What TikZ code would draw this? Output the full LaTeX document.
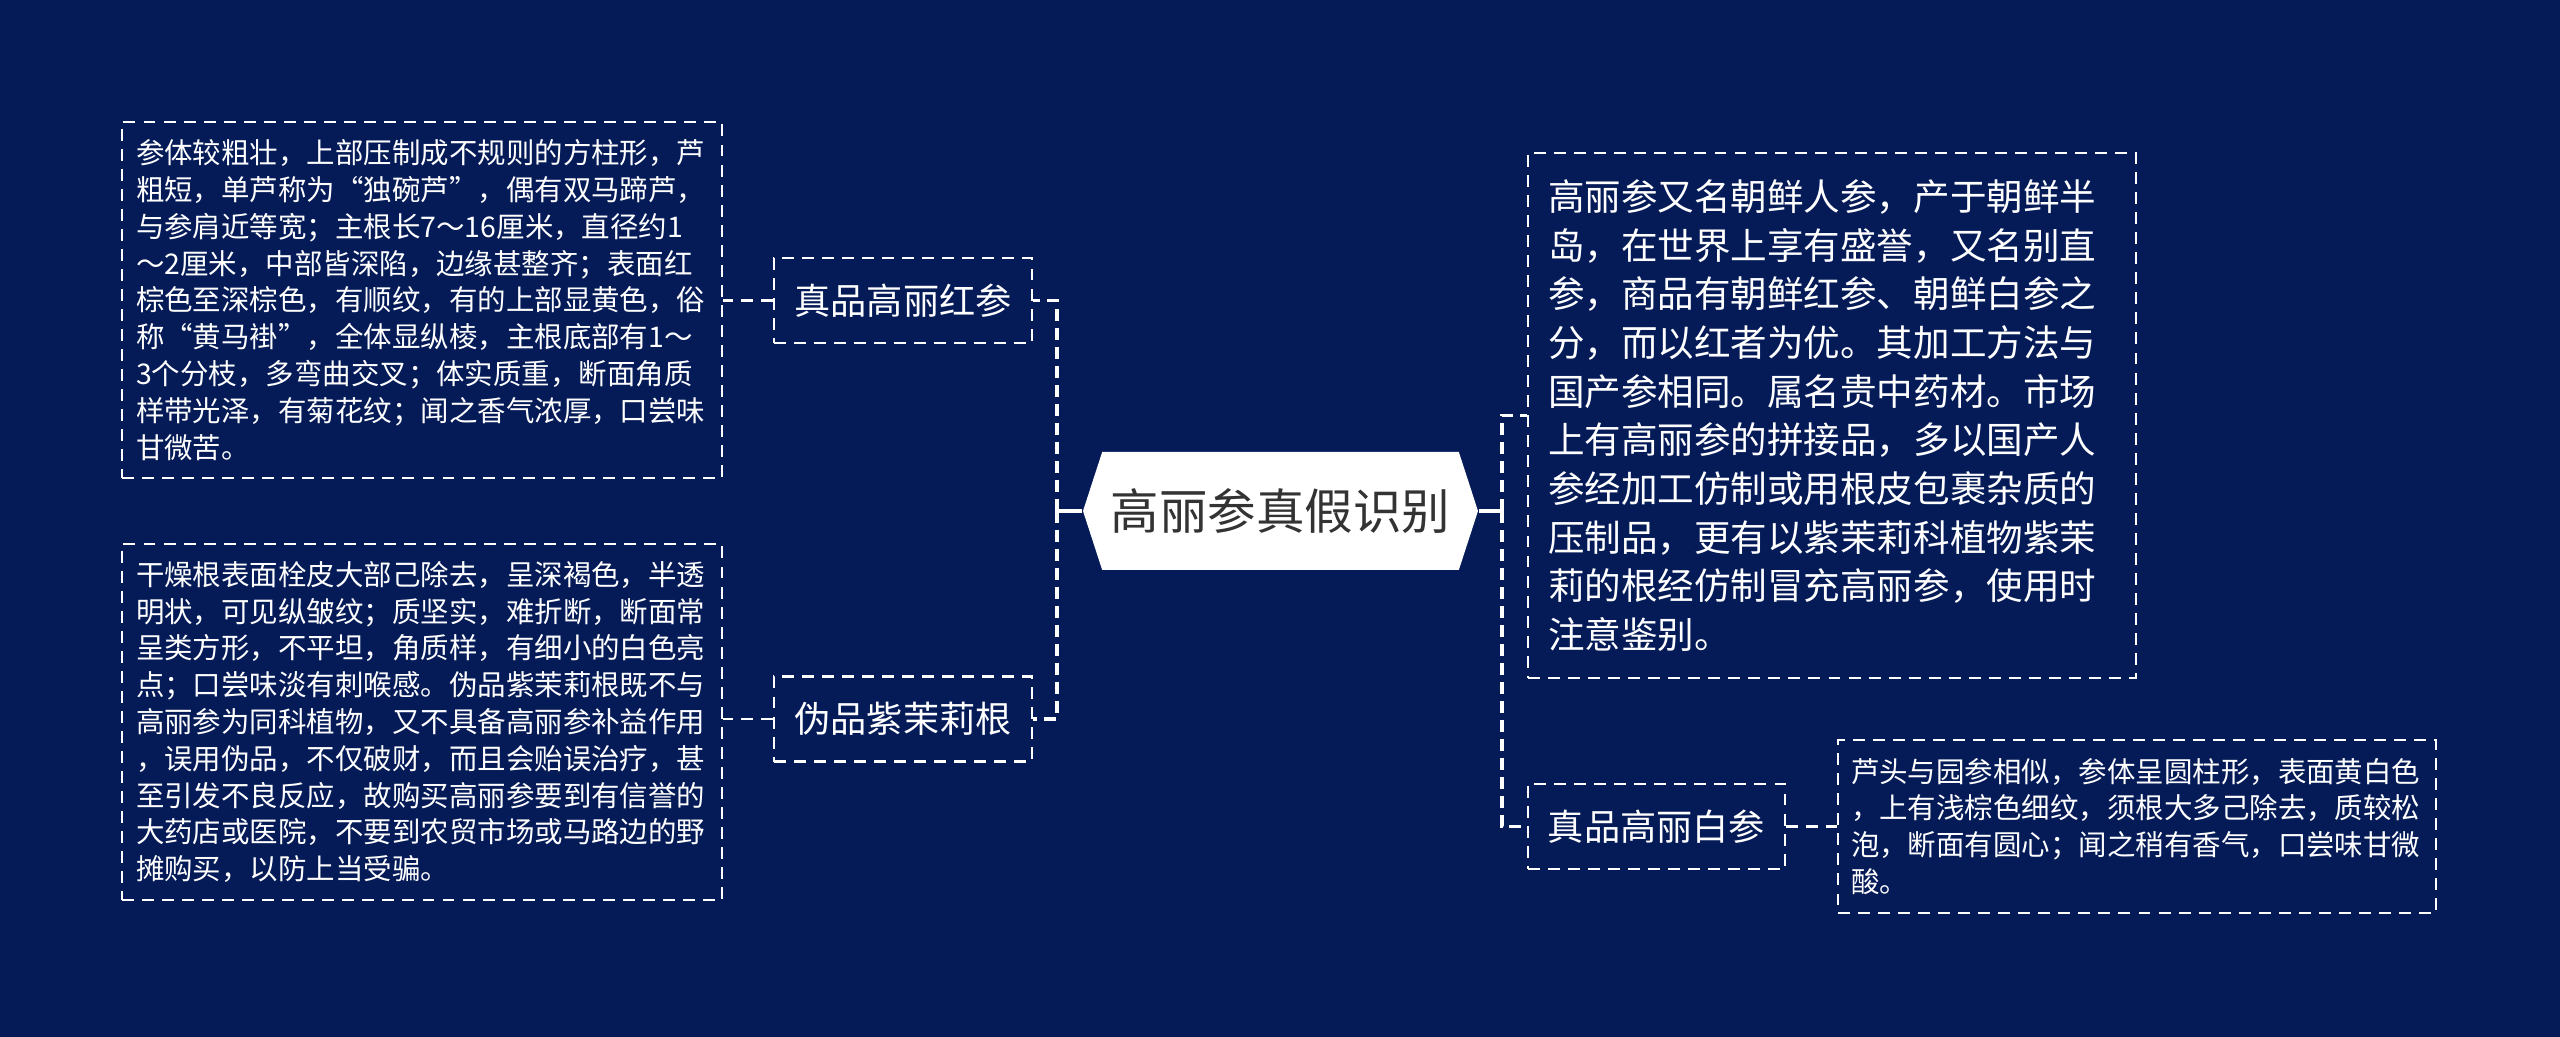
\documentclass[tikz,border=0pt]{standalone}
\usepackage{fontspec}
\setmainfont{Noto Sans CJK SC}
\definecolor{navybg}{RGB}{4,27,88}
\definecolor{rootink}{gray}{0.2}
\usetikzlibrary{shapes.symbols,calc}
\tikzset{
  dashbox/.style={draw=white,line width=0.6pt,dash pattern=on 3.4pt off 2.3pt,text=white},
  descbox/.style={dashbox,align=left,inner ysep=0pt,font=\fontsize{8.1pt}{10.47pt}\selectfont},
  midbox/.style={dashbox,align=center,inner sep=0pt,minimum width=2.58cm,minimum height=0.85cm,
    font=\fontsize{10.3pt}{12pt}\selectfont},
  rootbox/.style={shape=signal,signal to=west and east,signal pointer angle=144,fill=white,
    text=rootink,inner sep=0pt,minimum width=3.95cm,minimum height=1.18cm,
    font=\fontsize{13.8pt}{16pt}\selectfont},
  link/.style={white,line width=1.1pt,dash pattern=on 3.4pt off 2pt},
  stem/.style={white,line width=1.1pt},
  twig/.style={white,line width=0.6pt,dash pattern=on 3.4pt off 2.3pt},
}

\begin{document}
\begin{tikzpicture}
  \def\W{25.6}\def\H{10.37}
  \fill[navybg] (0,0) rectangle (\W,-\H);
  \useasboundingbox (0,0) rectangle (\W,-\H);
  % centre
  \node[rootbox] (root) at (12.805,-5.11) {高丽参真假识别};
  \coordinate (lj) at (10.57,-5.11);
  \coordinate (rj) at (15.02,-5.11);
  % left branch
  \node[midbox] (red)  at (9.03,-3.005) {真品高丽红参};
  \node[midbox] (fake) at (9.03,-7.19)  {伪品紫茉莉根};
  \node[descbox,text width=5.72cm,inner xsep=0.14cm,minimum height=3.56cm] (reddesc) at (4.22,-3.00)
    {参体较粗壮，上部压制成不规则的方柱形，芦\\
     粗短，单芦称为“独碗芦”，偶有双马蹄芦，\\
     与参肩近等宽；主根长7～16厘米，直径约1\\
     ～2厘米，中部皆深陷，边缘甚整齐；表面红\\
     棕色至深棕色，有顺纹，有的上部显黄色，俗\\
     称“黄马褂”，全体显纵棱，主根底部有1～\\
     3个分枝，多弯曲交叉；体实质重，断面角质\\
     样带光泽，有菊花纹；闻之香气浓厚，口尝味\\
     甘微苦。};
  \node[descbox,text width=5.72cm,inner xsep=0.14cm,minimum height=3.56cm] (fakedesc) at (4.22,-7.22)
    {干燥根表面栓皮大部己除去，呈深褐色，半透\\
     明状，可见纵皱纹；质坚实，难折断，断面常\\
     呈类方形，不平坦，角质样，有细小的白色亮\\
     点；口尝味淡有刺喉感。伪品紫茉莉根既不与\\
     高丽参为同科植物，又不具备高丽参补益作用\\
     ，误用伪品，不仅破财，而且会贻误治疗，甚\\
     至引发不良反应，故购买高丽参要到有信誉的\\
     大药店或医院，不要到农贸市场或马路边的野\\
     摊购买，以防上当受骗。};
  % right branch
  \node[descbox,text width=5.68cm,inner xsep=0.20cm,minimum height=5.25cm,
    font=\fontsize{10.4pt}{13.85pt}\selectfont] (intro) at (18.32,-4.155)
    {高丽参又名朝鲜人参，产于朝鲜半\\
     岛，在世界上享有盛誉，又名别直\\
     参，商品有朝鲜红参、朝鲜白参之\\
     分，而以红者为优。其加工方法与\\
     国产参相同。属名贵中药材。市场\\
     上有高丽参的拼接品，多以国产人\\
     参经加工仿制或用根皮包裹杂质的\\
     压制品，更有以紫茉莉科植物紫茉\\
     莉的根经仿制冒充高丽参，使用时\\
     注意鉴别。};
  \node[midbox,minimum width=2.57cm] (white) at (16.565,-8.265) {真品高丽白参};
  \node[descbox,text width=5.72cm,inner xsep=0.13cm,minimum height=1.73cm] (whitedesc) at (21.37,-8.265)
    {芦头与园参相似，参体呈圆柱形，表面黄白色\\
     ，上有浅棕色细纹，须根大多己除去，质较松\\
     泡，断面有圆心；闻之稍有香气，口尝味甘微\\
     酸。};
  % connectors
  \draw[stem] (root.west) -- (lj);
  \draw[stem] (root.east) -- (rj);
  \draw[link] (lj) |- (red.east);
  \draw[link] (lj) |- (fake.east);
  \draw[link] (rj) |- (intro.west);
  \draw[link] (rj) |- (white.west);
  \draw[twig] (red.west) -- (red.west -| reddesc.east);
  \draw[twig] (fake.west) -- (fake.west -| fakedesc.east);
  \draw[twig] (white.east) -- (white.east -| whitedesc.west);
\end{tikzpicture}
\end{document}
